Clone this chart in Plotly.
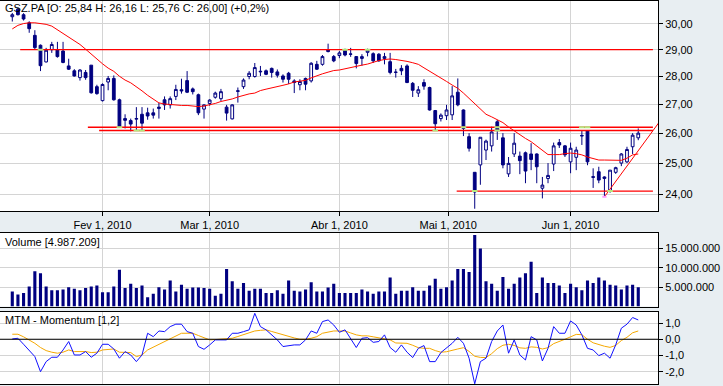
import math
import plotly.graph_objects as go

# ---------------- data ----------------
opens = [30.28,30.58,30.36,30.04,29.55,29.17,28.54,29.0,29.0,28.95,
         28.39,28.21,27.96,28.15,28.42,27.63,27.13,27.8,27.93,27.16,
         26.5,26.43,26.48,26.65,26.7,26.7,26.85,27.16,26.98,27.28,
         27.52,27.85,27.55,27.34,26.83,27.03,27.25,27.2,26.9,26.49,
         27.46,27.63,28.0,28.0,28.17,28.21,28.3,28.17,28.02,28.12,
         27.84,27.7,27.93,27.84,28.45,28.45,29.0,28.74,28.78,29.0,
         28.84,28.74,28.67,28.9,28.85,28.83,28.67,28.55,28.15,28.3,
         28.39,27.75,27.4,27.78,27.6,26.78,26.5,26.6,26.63,27.43,
         26.8,25.88,24.7,24.94,25.43,25.57,26.39,25.84,24.65,25.3,
         25.23,25.34,25.3,25.3,24.19,24.5,24.97,25.68,25.57,25.04,
         25.19,25.9,26.08,24.56,24.72,24.5,24.1,24.7,25.0,25.04,
         25.54,25.84]
highs = [30.43,30.65,30.42,30.1,29.75,29.2,29.07,29.3,29.3,29.3,
         28.66,28.27,28.27,28.24,28.42,27.7,27.75,28.02,28.04,27.2,
         26.65,26.5,26.9,26.9,26.88,26.85,27.05,27.28,27.28,27.7,
         27.92,28.2,27.6,27.38,27.0,27.18,27.45,27.55,26.98,27.0,
         27.6,27.93,28.2,28.5,28.39,28.26,28.33,28.26,28.08,28.17,
         27.9,27.9,27.96,28.53,28.58,28.8,29.23,28.8,28.95,29.04,
         29.07,28.76,28.83,29.04,28.9,28.87,28.88,28.88,28.28,28.42,
         28.45,27.8,27.65,27.9,27.63,26.8,26.68,26.98,27.65,27.93,
         26.82,26.0,24.7,25.86,25.78,26.22,26.45,26.0,25.2,26.0,
         25.38,25.38,25.66,25.32,24.55,25.0,25.68,25.8,25.6,25.68,
         25.54,26.08,26.1,24.83,24.88,24.57,24.77,24.88,25.33,25.54,
         26.0,26.16]
lows = [30.09,30.33,30.13,29.65,29.01,28.2,28.52,28.88,28.7,28.49,
        28.24,28.0,27.85,27.88,27.38,27.34,27.1,27.5,27.13,26.2,
        26.16,26.06,26.09,26.08,26.46,26.5,26.5,26.8,26.85,27.15,
        27.38,27.4,27.35,26.62,26.5,26.95,27.2,27.12,26.43,26.47,
        27.06,27.55,27.9,27.96,28.02,28.05,27.96,27.96,27.78,27.73,
        27.4,27.5,27.5,27.78,28.24,28.4,28.9,28.53,28.68,28.75,
        28.73,28.3,28.4,28.75,28.5,28.55,28.45,28.08,27.96,28.05,
        27.76,27.26,27.26,27.52,26.78,26.09,26.4,26.45,26.45,26.93,
        25.9,25.38,23.55,24.3,25.1,25.38,25.77,24.83,24.55,25.2,
        24.64,24.35,24.77,24.35,23.87,24.35,24.74,25.5,25.2,24.67,
        24.77,25.6,24.93,24.2,24.35,23.92,24.05,24.65,24.9,25.0,
        25.3,25.76]
closes = [30.36,30.36,30.19,29.81,29.08,28.4,28.98,29.2,28.74,28.52,
          28.27,28.02,28.24,27.96,27.41,27.38,27.71,27.93,27.16,26.22,
          26.44,26.31,26.5,26.34,26.59,26.62,26.9,26.98,27.2,27.53,
          27.48,27.43,27.45,26.7,26.98,27.15,27.4,27.45,26.69,26.98,
          27.48,27.87,28.12,28.33,28.19,28.08,28.15,28.05,27.9,27.9,
          27.78,27.82,27.72,28.49,28.27,28.74,28.93,28.58,28.88,28.8,
          28.83,28.48,28.74,28.98,28.58,28.58,28.74,28.15,28.16,28.21,
          27.78,27.5,27.52,27.65,26.8,26.32,26.62,26.8,27.3,26.98,
          26.16,25.49,24.07,25.86,25.73,26.04,26.1,24.94,24.99,25.66,
          25.08,24.74,25.12,24.88,24.29,24.6,25.57,25.6,25.27,25.49,
          25.43,25.92,25.04,24.54,24.45,24.55,24.77,24.85,25.3,25.45,
          25.93,26.0]
moving_avg = [29.80,29.94,30.01,30.04,30.04,30.02,29.98,29.91,29.77,29.63,
              29.49,29.35,29.20,29.02,28.83,28.65,28.47,28.31,28.19,28.01,
              27.87,27.77,27.64,27.48,27.32,27.18,27.05,27.01,26.99,26.96,
              26.96,26.96,26.94,26.92,26.94,26.98,27.03,27.10,27.14,27.19,
              27.26,27.32,27.37,27.40,27.49,27.54,27.58,27.62,27.68,27.73,
              27.80,27.83,27.86,27.95,28.03,28.10,28.16,28.22,28.24,28.29,
              28.33,28.37,28.42,28.46,28.54,28.59,28.63,28.65,28.63,28.60,
              28.56,28.51,28.45,28.32,28.20,28.08,27.94,27.82,27.69,27.57,
              27.40,27.21,27.03,26.84,26.65,26.56,26.47,26.36,26.21,26.07,
              25.94,25.82,25.71,25.56,25.40,25.28,25.28,25.28,25.31,25.33,
              25.31,25.27,25.20,25.14,25.10,25.10,25.09,25.09,25.09,25.16,
              25.27,25.30]
volume_m = [3.9,3.1,3.5,5.2,9.1,8.6,5.2,4.2,4.2,4.4,
            5.0,4.6,4.2,4.8,5.2,5.4,3.7,3.7,5.2,9.5,
            4.8,5.9,4.8,5.4,2.4,3.3,5.0,4.4,6.7,3.9,
            5.6,4.6,4.9,4.9,4.8,4.6,2.8,3.3,9.7,6.5,
            4.6,6.1,4.1,4.6,4.6,3.5,3.5,4.2,3.3,6.7,
            4.1,3.9,4.4,6.3,3.9,3.9,4.9,5.9,3.5,3.5,
            3.5,3.5,4.4,3.9,3.3,3.9,3.9,7.5,3.3,4.1,
            4.1,5.0,4.1,4.1,5.4,7.2,4.6,5.0,6.7,9.7,
            9.7,8.9,18.5,15.0,6.5,5.9,4.1,7.6,4.6,5.9,
            7.5,8.6,11.6,3.5,7.5,6.1,6.1,5.4,3.5,5.9,
            5.0,4.2,6.7,6.1,7.5,6.7,5.6,5.4,4.4,5.4,
            5.6,4.99]
momentum = [0.02,0.06,-0.31,-0.66,-1.07,-2.0,-1.38,-1.11,-1.11,-0.66,
            -0.14,-0.97,-0.97,-0.76,-1.11,-0.86,-0.31,-0.31,-0.6,-1.17,
            -0.76,-0.97,-1.38,-0.97,0.37,0.16,0.51,0.47,0.78,0.93,
            0.93,0.47,0.37,-0.45,-0.62,-0.35,-0.04,-0.04,-0.04,0.37,
            0.37,0.47,0.58,1.6,0.78,0.58,0.27,-0.04,-0.45,-0.39,
            -0.35,-0.35,-0.04,0.51,0.37,1.09,1.19,0.88,0.43,0.58,
            0.06,-0.51,0.06,0.1,-0.19,-0.14,0.27,-0.51,-0.8,-0.35,
            -0.8,-1.13,-0.56,-0.39,-1.38,-1.38,-0.82,-0.56,-0.25,0.12,
            -0.25,-1.17,-2.75,-1.38,-1.17,-0.14,0.51,0.88,-0.86,-0.04,
            -0.97,-1.28,0.16,-0.04,-1.34,-0.56,0.78,0.37,0.37,1.13,
            0.88,0.27,-0.56,-0.66,-1.01,-0.86,-1.17,-0.35,0.68,0.93,
            1.34,1.19]
momentum_signal = [0.31,0.31,0.15,-0.04,-0.25,-0.51,-0.70,-0.80,-0.86,-0.80,
                   -0.66,-0.76,-0.76,-0.76,-0.82,-0.80,-0.66,-0.63,-0.60,-0.80,
                   -0.81,-0.82,-1.07,-0.97,-0.66,-0.48,-0.31,-0.12,0.06,0.22,
                   0.37,0.37,0.37,0.23,0.10,-0.04,-0.02,0.0,0.03,0.06,
                   0.17,0.27,0.40,0.51,0.55,0.58,0.48,0.37,0.26,0.16,
                   0.08,0.0,0.0,0.06,0.16,0.37,0.44,0.51,0.51,0.51,
                   0.39,0.27,0.21,0.21,0.15,0.10,0.03,-0.04,-0.23,-0.25,
                   -0.25,-0.37,-0.52,-0.56,-0.56,-0.70,-0.80,-0.77,-0.67,-0.60,
                   -0.52,-0.75,-1.05,-1.12,-1.13,-0.89,-0.58,-0.37,-0.31,-0.38,
                   -0.53,-0.56,-0.47,-0.50,-0.60,-0.52,-0.27,-0.15,0.0,0.15,
                   0.30,0.28,0.0,-0.22,-0.33,-0.43,-0.50,-0.38,-0.08,0.12,
                   0.40,0.51]

day_index = list(range(len(closes)))

date_tick_index = [16, 35, 58, 77.3, 99]
date_tick_labels = ["Fev 1, 2010", "Mar 1, 2010", "Abr 1, 2010", "Mai 1, 2010", "Jun 1, 2010"]
price_ticks = [24, 25, 26, 27, 28, 29, 30]
price_tick_labels = ["24,00", "25,00", "26,00", "27,00", "28,00", "29,00", "30,00"]
volume_ticks = [5, 10, 15]
volume_tick_labels = ["5.000.000", "10.000.000", "15.000.000"]
mtm_ticks = [-2, -1, 0, 1]
mtm_tick_labels = ["-2,0", "-1,0", "0,0", "1,0"]

# horizontal levels: (price, start day, end day)
level_lines = [(29.0, 1.4, 113.6), (26.2, 13.4, 113.6), (26.09, 15.4, 113.6), (24.1, 78.8, 113.6)]
trend_days = [105, 115.1]
trend_prices = [23.92, 26.48]
# small highlight marks where candles touch the drawn levels
touch_days = [5, 59, 63, 19, 22, 23, 75, 80, 82, 86, 86, 101, 102, 106]
touch_prices = [29.0, 29.0, 29.0, 26.2, 26.09, 26.09, 26.09, 26.2, 24.1, 26.2, 26.09, 26.2, 26.2, 24.1]

header = "GSZ.PA [O: 25,84 H: 26,16 L: 25,76 C: 26,00] (+0,2%)"
volume_title = "Volume [4.987.209]"
mtm_title = "MTM - Momentum [1,2]"

# ---------------- styling ----------------
W, H = 723, 386
NAVY = "#000080"
RED = "#ff0000"
BG = "#e8eef2"
GRID = "#d4d4d4"
FONT = "Liberation Sans, Arial, sans-serif"

def ydom(top_px, bot_px):
    return [1 - bot_px / H, 1 - top_px / H]

xdom = [0, 658 / W]
xr = [-2.18, 114.5]

fig = go.Figure()

fig.add_trace(go.Candlestick(
    x=day_index, open=opens, high=highs, low=lows, close=closes,
    increasing=dict(line=dict(color=NAVY, width=1), fillcolor="white"),
    decreasing=dict(line=dict(color=NAVY, width=1), fillcolor=NAVY),
    whiskerwidth=0, xaxis="x", yaxis="y", hoverinfo="skip"))
fig.add_trace(go.Scatter(x=day_index, y=moving_avg, mode="lines",
                         line=dict(color=RED, width=1), xaxis="x", yaxis="y"))
for price, d0, d1 in level_lines:
    fig.add_trace(go.Scatter(x=[d0, d1], y=[price, price], mode="lines",
                             line=dict(color=RED, width=1.3), xaxis="x", yaxis="y"))
fig.add_trace(go.Scatter(x=trend_days, y=trend_prices, mode="lines",
                         line=dict(color=RED, width=1), xaxis="x", yaxis="y"))
fig.add_trace(go.Scatter(x=touch_days, y=touch_prices, mode="markers",
                         marker=dict(symbol="line-ew-open", size=4,
                                     line=dict(color="#33ee77", width=2)),
                         xaxis="x", yaxis="y"))
fig.add_trace(go.Scatter(x=[trend_days[0]], y=[trend_prices[0]], mode="markers",
                         marker=dict(symbol="line-ew-open", size=3,
                                     line=dict(color="#33dddd", width=2)),
                         xaxis="x", yaxis="y"))

# volume
fig.add_trace(go.Bar(x=day_index, y=volume_m, marker=dict(color=NAVY, line=dict(width=0)),
                     width=0.55, xaxis="x2", yaxis="y2"))

# momentum
fig.add_trace(go.Scatter(x=day_index, y=momentum_signal, mode="lines",
                         line=dict(color="#f5a800", width=1), xaxis="x3", yaxis="y3"))
fig.add_trace(go.Scatter(x=day_index, y=momentum, mode="lines",
                         line=dict(color="#1010ff", width=1), xaxis="x3", yaxis="y3"))

axis_common = dict(showline=True, mirror=True, linecolor="black", linewidth=1,
                   gridcolor=GRID, gridwidth=1, zeroline=False,
                   tickfont=dict(family=FONT, size=11, color="black"))

fig.update_layout(
    width=W, height=H, margin=dict(l=0, r=0, t=0, b=0),
    paper_bgcolor=BG, plot_bgcolor="white", showlegend=False,
    font=dict(family=FONT, size=11, color="black"),
    bargap=0.45,
    xaxis=dict(domain=xdom, range=xr, anchor="y", tickmode="array",
               tickvals=date_tick_index, ticktext=date_tick_labels,
               ticks="outside", ticklen=4, tickcolor="black",
               rangeslider=dict(visible=False), **axis_common),
    xaxis2=dict(domain=xdom, range=xr, anchor="y2", tickmode="array",
                tickvals=date_tick_index, showticklabels=False, ticks="", **axis_common),
    xaxis3=dict(domain=xdom, range=xr, anchor="y3", tickmode="array",
                tickvals=date_tick_index, showticklabels=False, ticks="", **axis_common),
    yaxis=dict(domain=ydom(0.5, 211), type="log",
               range=[math.log10(23.48), math.log10(30.93)], side="right", anchor="x",
               tickmode="array", tickvals=price_ticks, ticktext=price_tick_labels,
               ticks="outside", ticklen=4, tickcolor="black", **axis_common),
    yaxis2=dict(domain=ydom(233, 306.5), range=[0, 19], side="right", anchor="x2",
                tickmode="array", tickvals=volume_ticks, ticktext=volume_tick_labels,
                ticks="outside", ticklen=4, tickcolor="black", **axis_common),
    yaxis3=dict(domain=ydom(311.7, 384.3), range=[-2.78, 1.70], side="right", anchor="x3",
                tickmode="array", tickvals=mtm_ticks, ticktext=mtm_tick_labels,
                ticks="outside", ticklen=4, tickcolor="black", **axis_common),
)

# black zero line in momentum panel
fig.add_trace(go.Scatter(x=[xr[0], xr[1]], y=[0, 0], mode="lines",
                         line=dict(color="black", width=1), xaxis="x3", yaxis="y3"))

for text, ypx in [(header, 8.5), (volume_title, 241.5), (mtm_title, 320)]:
    fig.add_annotation(text=text, xref="paper", yref="paper", x=3 / W, y=1 - ypx / H,
                       xanchor="left", yanchor="middle", showarrow=False,
                       font=dict(family=FONT, size=11, color="black"))

fig.write_html("out.html", config={"displayModeBar": False},
               post_script="document.body.style.margin='0';document.body.style.padding='0';")
